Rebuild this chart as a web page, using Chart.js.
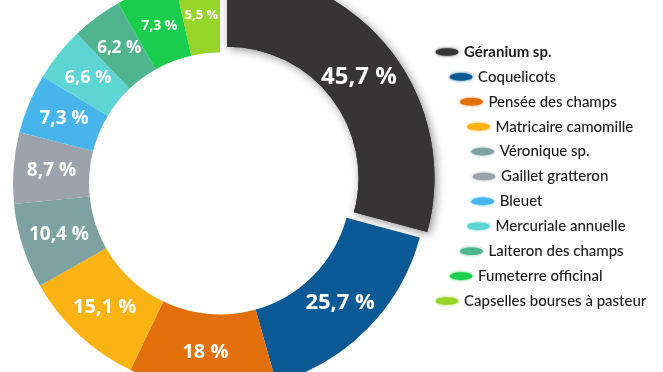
<!DOCTYPE html>
<html lang="fr">
<head>
<meta charset="utf-8">
<title>Adventices</title>
<script src="https://cdn.jsdelivr.net/npm/chart.js@4.4.1/dist/chart.umd.min.js"></script>
<style>
  html, body { margin: 0; padding: 0; background: #fff; }
  #zone { position: relative; width: 663px; height: 372px; overflow: hidden; }
</style>
</head>
<body>
<div id="zone"><canvas id="canvas" width="663" height="372"></canvas></div>
<script>
// donnees
const categories = [
  'Géranium sp.', 'Coquelicots', 'Pensée des champs', 'Matricaire camomille',
  'Véronique sp.', 'Gaillet gratteron', 'Bleuet', 'Mercuriale annuelle',
  'Laiteron des champs', 'Fumeterre officinal', 'Capselles bourses à pasteur'
];
const valeurs = [45.7, 25.7, 18, 15.1, 10.4, 8.7, 7.3, 6.6, 6.2, 7.3, 5.5];
const couleurs = [
  '#363435', '#0b5a95', '#e06f0c', '#fbb314', '#7ea2a2', '#9da3aa',
  '#48b4ec', '#5dd5d3', '#4fb48f', '#1acd4c', '#97d52a'
];

// taille du texte dans chaque part
const taillesEtiquettes = [24, 22, 20, 20, 19, 19, 19, 18, 17, 14, 13];

const ombre = {
  id: 'ombre',
  beforeDatasetsDraw(chart) {
    const arc = chart.getDatasetMeta(0).data[0];
    const ctx = chart.ctx;
    ctx.save();
    ctx.shadowColor = 'rgba(0,0,0,0.45)';
    ctx.shadowBlur = 10;
    ctx.shadowOffsetX = 2;
    ctx.shadowOffsetY = 2;
    arc.draw(ctx);
    ctx.restore();
  }
};

const etiquettes = {
  id: 'etiquettes',
  afterDatasetsDraw(chart) {
    const ctx = chart.ctx;
    const meta = chart.getDatasetMeta(0);
    ctx.save();
    ctx.fillStyle = '#fff';
    ctx.textAlign = 'center';
    ctx.textBaseline = 'middle';
    meta.data.forEach((arc, i) => {
      const p = arc.getCenterPoint();
      const a = (arc.startAngle + arc.endAngle) / 2;
      const recul = (arc.options.offset || 0) / 3;
      ctx.font = 'bold ' + taillesEtiquettes[i] + 'px "Open Sans"';
      ctx.fillText(String(valeurs[i]).replace('.', ',') + ' %',
        p.x - Math.cos(a) * recul, p.y - Math.sin(a) * recul);
    });
    ctx.restore();
  }
};

// legende disposee en arc, a droite
const legendeArc = {
  id: 'legendeArc',
  afterDraw(chart) {
    const ctx = chart.ctx;
    const n = categories.length;
    const y0 = 52, pas = 24.9, R = 228, xMax = 472;
    const cy = y0 + pas * (n - 1) / 2;
    categories.forEach((nom, i) => {
      const y = y0 + i * pas;
      const dy = y - cy;
      const x = xMax - (R - Math.sqrt(R * R - dy * dy));
      ctx.save();
      ctx.fillStyle = couleurs[i];
      ctx.shadowColor = couleurs[i];
      ctx.shadowBlur = 3;
      ctx.beginPath();
      ctx.ellipse(x + 12, y, 11.5, 3.8, 0, 0, Math.PI * 2);
      ctx.fill();
      ctx.restore();
      ctx.fillStyle = '#1a1a1a';
      ctx.font = (i === 0 ? 'bold ' : '500 ') + '15px Lato';
      ctx.textBaseline = 'middle';
      ctx.textAlign = 'left';
      ctx.fillText(nom, x + 29, y);
    });
  }
};

const ctx = document.getElementById('canvas');
const myChart = new Chart(ctx, {
  type: 'doughnut',
  data: {
    labels: categories,
    datasets: [{
      data: valeurs,
      backgroundColor: couleurs,
      borderWidth: 0,
      offset: [36, 0, 0, 0, 0, 0, 0, 0, 0, 0, 0],
      clip: false
    }]
  },
  options: {
    responsive: false,
    animation: false,
    radius: 207,
    cutout: '63.3%',
    layout: { padding: { left: 0, top: 0, right: 223, bottom: 5 } },
    plugins: {
      legend: { display: false },
      tooltip: { enabled: false }
    }
  },
  plugins: [ombre, etiquettes, legendeArc]
});
</script>
</body>
</html>
